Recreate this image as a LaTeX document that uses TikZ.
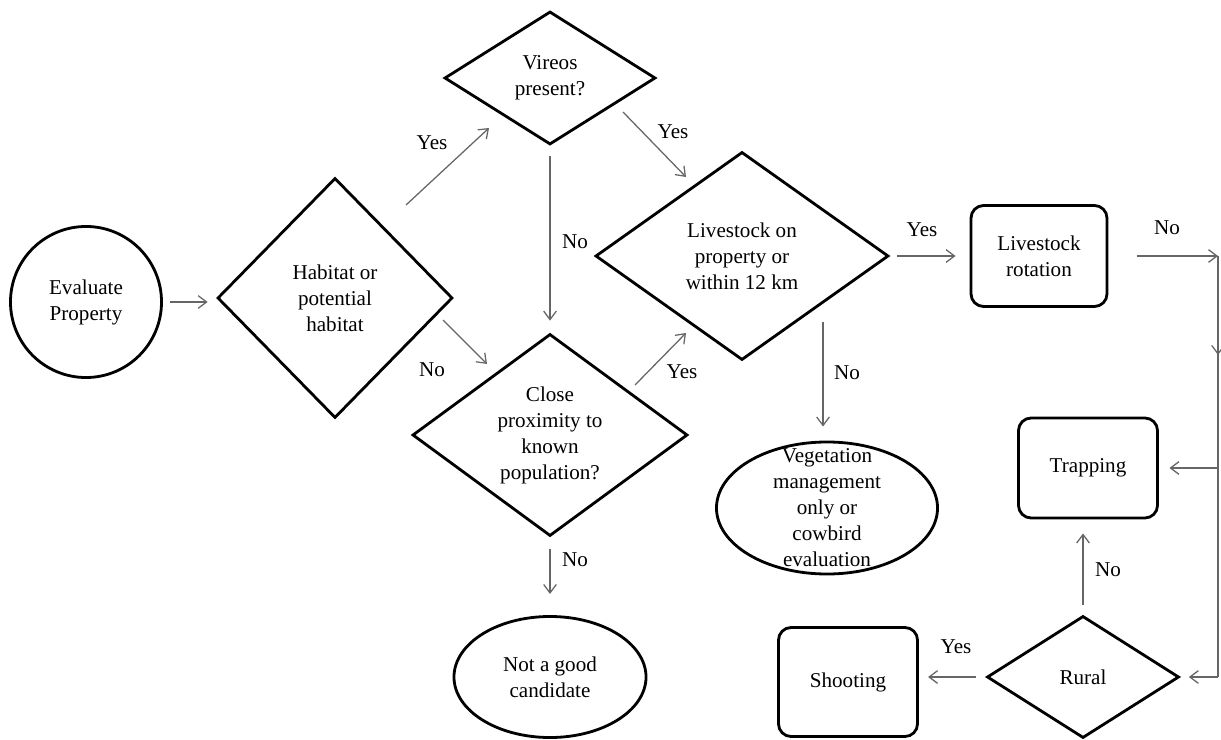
\documentclass[tikz,border=0pt]{standalone}
\usepackage{fontspec}
\setmainfont{Liberation Serif}
\usetikzlibrary{shapes.geometric,arrows.meta,decorations.markings}

\begin{document}
\begin{tikzpicture}[
  x=0.025cm, y=-0.025cm,
  font=\fontsize{15}{18.5}\selectfont,
  decision/.style={diamond, draw, line width=2pt, inner sep=0pt, align=center},
  process/.style={rectangle, rounded corners=9pt, draw, line width=2pt, align=center},
  terminal/.style={ellipse, draw, line width=2pt, inner sep=0pt, align=center},
  arrow/.style={-{Straight Barb[length=6pt,width=9pt]}, draw=black!60, line width=0.9pt},
  link/.style={draw=black!60, line width=0.9pt},
  midarrow/.style={postaction={decorate}, decoration={markings,
    mark=at position 0.235 with {\arrow{Straight Barb[length=6pt,width=9pt]}}}},
  answer/.style={inner sep=0pt}
]
  \useasboundingbox (0,0) rectangle (1221,740);

  \node[circle, draw, line width=2pt, minimum size=3.775cm, align=center] (evaluate) at (86,302) {Evaluate\\Property};
  \node[decision, minimum width=5.875cm, minimum height=6cm] (habitat) at (335,298) {Habitat or\\potential\\habitat};
  \node[decision, minimum width=5.275cm, minimum height=3.325cm] (vireos) at (550,78) {Vireos\\present?};
  \node[decision, minimum width=6.875cm, minimum height=4.675cm] (close) at (550,435) {Close\\proximity to\\known\\population?};
  \node[decision, minimum width=7.325cm, minimum height=5.2cm] (livestock) at (742,256) {Livestock on\\property or\\within 12 km};
  \node[decision, minimum width=4.8cm, minimum height=3.05cm] (rural) at (1083,677) {Rural};
  \node[terminal, minimum width=5.525cm, minimum height=3.3cm, inner ysep=-14pt] (vegetation) at (827,508) {Vegetation\\management\\only or\\cowbird\\evaluation};
  \node[terminal, minimum width=4.8cm, minimum height=3.025cm] (notgood) at (550,677) {Not a good\\candidate};
  \node[process, minimum width=3.4cm, minimum height=2.525cm] (rotation) at (1039,256) {Livestock\\rotation};
  \node[process, minimum width=3.475cm, minimum height=2.5cm] (trapping) at (1088,468) {Trapping};
  \node[process, minimum width=3.475cm, minimum height=2.725cm] (shooting) at (848,682) {Shooting};

  \coordinate (turntop) at (1218,256);
  \coordinate (turnbot) at (1218,677);

  \draw[arrow, shorten <=5pt, shorten >=6pt] (evaluate.east) -- (evaluate.east -| habitat.west);
  \draw[arrow] ([shift={(71,-93)}]habitat.center) -- ([shift={(-61,50)}]vireos.center);
  \draw[arrow] ([shift={(108,22)}]habitat.center) -- ([shift={(-63,-71)}]close.center);
  \draw[arrow, shorten <=7pt, shorten >=8.5pt] (vireos.south) -- (close.north);
  \draw[arrow] ([shift={(73,34)}]vireos.center) -- ([shift={(-56,-79)}]livestock.center);
  \draw[arrow] ([shift={(85,-50)}]close.center) -- ([shift={(-56,77)}]livestock.center);
  \draw[arrow, shorten <=5pt, shorten >=10pt] (livestock.east) -- (rotation.west);
  \draw[arrow, shorten >=10pt] ([shift={(81,66)}]livestock.center) -- ([shift={(-4,0)}]vegetation.north);
  \draw[arrow, shorten <=8pt, shorten >=15pt] (close.south) -- (notgood.north);
  \draw[arrow, shorten <=20pt] (rotation.east) -- (turntop);
  \draw[link, midarrow] (turntop) -- (turnbot);
  \draw[arrow, shorten >=6pt] (turnbot) -- (rural.east);
  \draw[arrow, shorten >=7.5pt] (turntop |- trapping.east) -- (trapping.east);
  \draw[arrow, shorten <=7pt, shorten >=10pt] (rural.north) -- (rural.north |- trapping.south);
  \draw[arrow, shorten <=6.5pt, shorten >=6.5pt] (rural.west) -- (rural.west -| shooting.east);

  \node[answer] (yes1) at (432,143) {Yes};
  \node[answer] (no1) at (432,370) {No};
  \node[answer] (no2) at (575,242) {No};
  \node[answer] (yes2) at (673,132) {Yes};
  \node[answer] (yes3) at (682,372) {Yes};
  \node[answer] (yes4) at (922,230) {Yes};
  \node[answer] (no3) at (847,373) {No};
  \node[answer] (no4) at (575,560) {No};
  \node[answer] (no5) at (1167,228) {No};
  \node[answer] (no6) at (1108,570) {No};
  \node[answer] (yes5) at (956,647) {Yes};
\end{tikzpicture}
\end{document}
